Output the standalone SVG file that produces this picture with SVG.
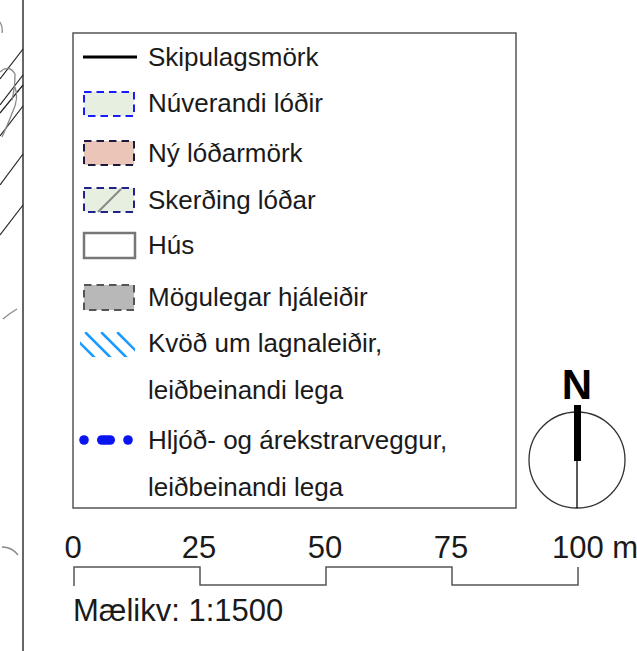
<svg xmlns="http://www.w3.org/2000/svg" width="637" height="651" viewBox="0 0 637 651">
<style>
text{font-family:"Liberation Sans",Arial,sans-serif;font-size:26px;fill:#1a1a1a}
.sc{font-size:31px}
.map{fill:none;stroke:#222;stroke-width:1.2}
.mapg{fill:none;stroke:#888;stroke-width:1.3}
.dash{stroke-width:2;stroke-dasharray:7.5 5}
</style>
<defs>
<clipPath id="hclip"><rect x="80" y="332" width="55" height="25"/></clipPath>
</defs>
<rect width="637" height="651" fill="#fff"/>
<g id="map-fragment">
<line x1="23" y1="0" x2="23" y2="651" stroke="#666" stroke-width="2"/>
<line class="map" x1="0" y1="79" x2="23" y2="49"/>
<line class="map" x1="0" y1="105" x2="23" y2="75"/>
<line class="map" x1="0" y1="113" x2="23" y2="85"/>
<line class="map" x1="0" y1="136" x2="23" y2="106"/>
<line class="map" x1="0" y1="185" x2="23" y2="154"/>
<line class="map" x1="0" y1="235" x2="23" y2="205"/>
<path class="mapg" d="M0,22 Q3,27 2,33"/>
<path class="mapg" d="M0,72 Q9,64 15,74 Q15,88 12,100"/>
<path class="mapg" d="M15,87 Q19,98 13,111 Q8,124 2,137"/>
<path class="mapg" d="M3,319 Q10,313 17,309"/>
<path class="mapg" d="M2,547 Q12,547 18,555"/>
</g>
<g id="legend">
<rect x="73" y="33" width="443" height="475" fill="#fff" stroke="#555" stroke-width="1.5"/>
<g id="item-skipulagsmork">
<line x1="83" y1="57" x2="137" y2="57" stroke="#000" stroke-width="3"/>
<text x="148" y="66">Skipulagsmörk</text>
</g>
<g id="item-nuverandi">
<rect class="dash" x="84" y="92" width="50" height="24" fill="#e6efe0" stroke="#1a1aff"/>
<text x="148" y="112">Núverandi lóðir</text>
</g>
<g id="item-ny">
<rect class="dash" x="84" y="141" width="50" height="24" fill="#ebc5b8" stroke="#1a1a40"/>
<text x="148" y="162">Ný lóðarmörk</text>
</g>
<g id="item-skerding">
<rect class="dash" x="84" y="188" width="50" height="24" fill="#e6efe0" stroke="#22228a"/>
<line x1="98" y1="212" x2="121" y2="189" stroke="#888" stroke-width="2"/>
<text x="148" y="209">Skerðing lóðar</text>
</g>
<g id="item-hus">
<rect x="84" y="233" width="51" height="25" fill="#fff" stroke="#777" stroke-width="2.5"/>
<text x="148" y="254">Hús</text>
</g>
<g id="item-hjaleidir">
<rect class="dash" x="84" y="285" width="50" height="25" fill="#b8b8b8" stroke="#555"/>
<text x="148" y="306">Mögulegar hjáleiðir</text>
</g>
<g id="item-kvod">
<g clip-path="url(#hclip)" stroke="#1e9bff" stroke-width="2.6" stroke-linecap="round">
<line x1="70" y1="333" x2="94" y2="357"/>
<line x1="86" y1="333" x2="110" y2="357"/>
<line x1="102" y1="333" x2="126" y2="357"/>
<line x1="118" y1="333" x2="142" y2="357"/>
</g>
<text x="148" y="352">Kvöð um lagnaleiðir,</text>
<text x="148" y="399">leiðbeinandi lega</text>
</g>
<g id="item-hljod" fill="#0a14f0">
<circle cx="84" cy="440" r="4.8"/>
<rect x="97" y="435.2" width="18" height="9.6" rx="4.8"/>
<circle cx="128" cy="440" r="4.8"/>
<text x="148" y="449">Hljóð- og árekstrarveggur,</text>
<text x="148" y="496">leiðbeinandi lega</text>
</g>
</g>
<g id="north-arrow">
<circle cx="577" cy="460" r="48" fill="none" stroke="#333" stroke-width="1.3"/>
<line x1="577" y1="460" x2="577" y2="508" stroke="#000" stroke-width="1.3"/>
<rect x="574" y="405" width="7" height="56" fill="#000"/>
<text x="577" y="399" text-anchor="middle" style="font-size:42px;font-weight:bold;fill:#000">N</text>
</g>
<g id="scale-bar">
<path d="M74,586 V567 H200 V585 H326 V567 H452 V585 H578 V567" fill="none" stroke="#555" stroke-width="1.5"/>
<text class="sc" x="73" y="558" text-anchor="middle">0</text>
<text class="sc" x="199" y="558" text-anchor="middle">25</text>
<text class="sc" x="325" y="558" text-anchor="middle">50</text>
<text class="sc" x="451" y="558" text-anchor="middle">75</text>
<text class="sc" x="552" y="558">100 m</text>
<text class="sc" x="73" y="621">Mælikv: 1:1500</text>
</g>
</svg>
